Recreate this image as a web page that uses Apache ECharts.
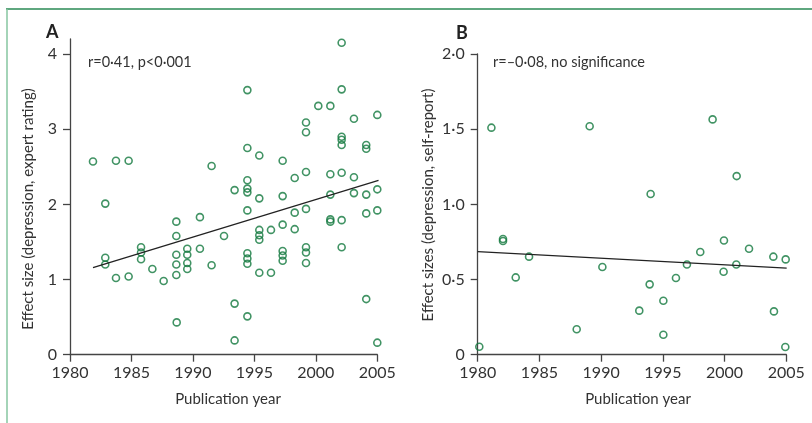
<!DOCTYPE html>
<html>
<head>
<meta charset="utf-8">
<script src="https://cdn.jsdelivr.net/npm/echarts@6/dist/echarts.min.js"></script>
<style>html,body{margin:0;padding:0;background:#fff}#c{width:812px;height:423px}</style>
</head>
<body>
<div id="c"></div>
<script>
// Panel A: year, effect size (expert rating)
const yearsA = [1981.87,1982.87,1982.87,1982.87,1983.74,1983.74,1984.77,1984.77,1985.78,1985.78,1985.78,1986.70,1987.62,
  1988.65,1988.65,1988.65,1988.65,1988.65,1988.68,1989.54,1989.54,1989.54,1989.54,1990.57,1990.57,1991.52,1991.52,1992.53,
  1993.39,1993.39,1993.39,1994.43,1994.43,1994.43,1994.43,1994.43,1994.43,1994.43,1994.43,1994.43,1994.43,
  1995.40,1995.40,1995.40,1995.40,1995.40,1995.40,1996.35,1996.35,1997.30,1997.30,1997.30,1997.30,1997.30,1997.30,
  1998.28,1998.28,1998.28,1999.20,1999.20,1999.20,1999.20,1999.20,1999.20,1999.20,2000.20,2001.18,2001.18,2001.18,2001.18,2001.18,
  2002.10,2002.10,2002.10,2002.10,2002.10,2002.10,2002.10,2002.10,2003.10,2003.10,2003.10,
  2004.10,2004.10,2004.10,2004.10,2004.10,2005.0,2005.0,2005.0,2005.0];
const effectA = [2.57,2.01,1.29,1.20,2.58,1.02,2.58,1.04,1.43,1.36,1.27,1.14,0.98,
  1.77,1.58,1.33,1.20,1.06,0.43,1.41,1.33,1.22,1.14,1.83,1.41,2.51,1.19,1.58,
  2.19,0.68,0.19,3.52,2.75,2.32,2.21,2.16,1.92,1.35,1.28,1.21,0.51,
  2.65,2.08,1.66,1.59,1.53,1.09,1.66,1.09,2.58,2.11,1.73,1.38,1.32,1.25,
  2.35,1.89,1.67,3.09,2.96,2.43,1.94,1.43,1.36,1.22,3.31,3.31,2.40,2.13,1.80,1.77,
  4.15,3.53,2.90,2.86,2.79,2.42,1.79,1.43,3.14,2.36,2.15,
  2.79,2.74,2.13,1.88,0.74,3.19,2.20,1.92,0.16];
const fitYearsA = [1981.87, 2005.1];
const fitValuesA = [1.16, 2.32];

// Panel B: year, effect size (self-report)
const yearsB = [1980.13,1981.11,1982.05,1982.05,1983.08,1984.16,1988.02,1989.07,1990.10,1993.09,1993.93,1994.01,1995.04,1995.04,
  1996.06,1996.95,1998.03,1999.03,1999.95,1999.92,2000.98,2000.95,2001.98,2003.95,2004.0,2004.95,2004.92];
const effectB = [0.053,1.51,0.77,0.756,0.514,0.652,0.169,1.519,0.583,0.293,0.468,1.069,0.359,0.133,
  0.51,0.60,0.683,1.565,0.76,0.552,1.188,0.60,0.705,0.652,0.288,0.634,0.051];
const fitYearsB = [1980, 2005.03];
const fitValuesB = [0.685, 0.576];

const yTicksA = [0, 1, 2, 3, 4];
const yTicksB = [0, 0.5, 1.0, 1.5, 2.0];
const xTicks = [1980, 1985, 1990, 1995, 2000, 2005];

const green = '#12783d';
const axisCol = '#444';
const textCol = '#333';
const font = 'Lato, "Open Sans", sans-serif';

const zip = (a, b) => a.map((v, i) => [v, b[i]]);
const dot = v => v === 0 ? '0' : v.toFixed(1).replace('.', '\u00b7');

function xAxisCfg(gi) {
  return {
    gridIndex: gi, type: 'value', min: 1980, max: 2005, interval: 5,
    axisLine: { lineStyle: { color: axisCol, width: 1.3 } },
    axisTick: { length: 7, customValues: xTicks, lineStyle: { color: axisCol, width: 1.3 } },
    axisLabel: { color: textCol, fontSize: 16, fontFamily: font, margin: 10, customValues: xTicks, formatter: v => String(v) },
    splitLine: { show: false }
  };
}
function yAxisCfg(gi, max, ticks, fmt) {
  return {
    gridIndex: gi, type: 'value', min: 0, max: max,
    axisLine: { show: true, lineStyle: { color: axisCol, width: 1.3 } },
    axisTick: { show: true, length: 7, customValues: ticks, lineStyle: { color: axisCol, width: 1.3 } },
    axisLabel: { color: textCol, fontSize: 16, fontFamily: font, margin: 13, customValues: ticks, formatter: fmt },
    splitLine: { show: false }
  };
}
const scatterStyle = { color: 'rgba(0,0,0,0)', borderColor: green, borderWidth: 1.6 };

const chart = echarts.init(document.getElementById('c'), null, { renderer: 'canvas' });
chart.setOption({
  backgroundColor: '#fff',
  animation: false,
  grid: [
    { left: 70, right: 434.7, top: 39, bottom: 68.3 },
    { left: 477.7, right: 25.7, top: 54, bottom: 68.3 }
  ],
  xAxis: [xAxisCfg(0), xAxisCfg(1)],
  yAxis: [
    yAxisCfg(0, 4.2, yTicksA, v => String(v)),
    yAxisCfg(1, 2.0, yTicksB, dot)
  ],
  series: [
    { type: 'scatter', xAxisIndex: 0, yAxisIndex: 0, data: zip(yearsA, effectA), symbol: 'circle', symbolSize: 7, itemStyle: scatterStyle },
    { type: 'line', xAxisIndex: 0, yAxisIndex: 0, data: zip(fitYearsA, fitValuesA), showSymbol: false, lineStyle: { color: '#222', width: 1.3 } },
    { type: 'scatter', xAxisIndex: 1, yAxisIndex: 1, data: zip(yearsB, effectB), symbol: 'circle', symbolSize: 7, itemStyle: scatterStyle },
    { type: 'line', xAxisIndex: 1, yAxisIndex: 1, data: zip(fitYearsB, fitValuesB), showSymbol: false, lineStyle: { color: '#222', width: 1.3 } }
  ],
  graphic: [
    { type: 'line', shape: { x1: 6, y1: 9, x2: 812, y2: 9 }, style: { stroke: '#2a8a55', lineWidth: 1.5 } },
    { type: 'line', shape: { x1: 7, y1: 9, x2: 7, y2: 423 }, style: { stroke: '#86c6a0', lineWidth: 1.5 } },
    { type: 'text', x: 46, y: 23, style: { text: 'A', fontSize: 18, fontWeight: 'bold', fontFamily: font, fill: '#222' } },
    { type: 'text', x: 456, y: 24, style: { text: 'B', fontSize: 18, fontWeight: 'bold', fontFamily: font, fill: '#222' } },
    { type: 'text', x: 88, y: 62, style: { text: 'r=0\u00b741, p<0\u00b7001', fontSize: 14.5, fontFamily: font, fill: textCol, verticalAlign: 'middle' } },
    { type: 'text', x: 493, y: 62, style: { text: 'r=\u20130\u00b708, no significance', fontSize: 14.5, fontFamily: font, fill: textCol, verticalAlign: 'middle' } },
    { type: 'text', x: 228, y: 399, style: { text: 'Publication year', fontSize: 15, fontFamily: font, fill: textCol, align: 'center', verticalAlign: 'middle' } },
    { type: 'text', x: 638, y: 399, style: { text: 'Publication year', fontSize: 15, fontFamily: font, fill: textCol, align: 'center', verticalAlign: 'middle' } },
    { type: 'text', x: 28, y: 209, rotation: Math.PI / 2, style: { text: 'Effect size (depression, expert rating)', fontSize: 15, fontFamily: font, fill: textCol, align: 'center', verticalAlign: 'middle' } },
    { type: 'text', x: 428, y: 205, rotation: Math.PI / 2, style: { text: 'Effect sizes (depression, self-report)', fontSize: 15, fontFamily: font, fill: textCol, align: 'center', verticalAlign: 'middle' } }
  ]
});
</script>
</body>
</html>
